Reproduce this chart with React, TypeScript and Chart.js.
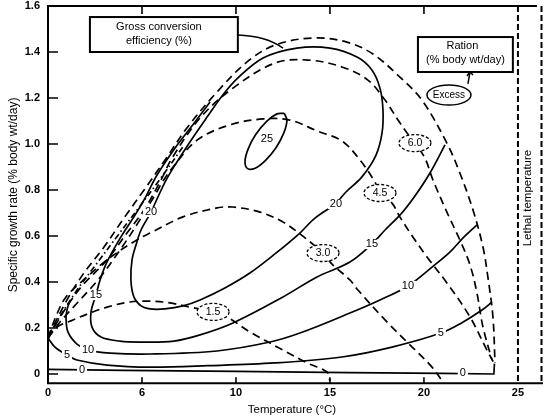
import React, { useEffect, useRef } from "react";
import { Chart, registerables } from "chart.js";

Chart.register(...registerables);

const FONT = "'Liberation Sans', Arial, sans-serif";

// ---- axes ----
const xTickValues = [0, 5, 10, 15, 20, 25];
const xTickLabels = ["0", "6", "10", "15", "20", "25"];
const yTickValues = [0, 0.2, 0.4, 0.6, 0.8, 1.0, 1.2, 1.4, 1.6];
const xMin = 0;
const xMax = 26.28;
const yMin = -0.04;
const yMax = 1.6;
const lethalTemperature = 25;

// ---- ration isopleths (% body wt/day), [temperature, growth rate] ----
const rationExcess = [
  [0, 0.161], [1.01, 0.322], [1.91, 0.439], [2.98, 0.552], [4.04, 0.678], [5.11, 0.8],
  [6.33, 0.943], [7.39, 1.07], [8.99, 1.226], [10.59, 1.357], [12.07, 1.43], [14.1, 1.461],
  [15.9, 1.443], [17.29, 1.391], [18.72, 1.291], [19.89, 1.191], [21.22, 1.004], [21.91, 0.874],
  [22.61, 0.713], [23.14, 0.552], [23.4, 0.422], [23.67, 0.248], [23.78, 0.048],
];
const ration60 = [
  [0, 0.157], [0.85, 0.274], [1.76, 0.378], [3.14, 0.496], [4.2, 0.613], [5.11, 0.713],
  [6.01, 0.843], [6.6, 0.939], [8.09, 1.113], [9.84, 1.243], [12.07, 1.352], [13.83, 1.365],
  [15.64, 1.335], [17.02, 1.278], [17.93, 1.191], [18.62, 1.104], [19.1, 1.048], [19.52, 1.004],
  [20.05, 0.939], [20.48, 0.843], [21.22, 0.704], [21.91, 0.583], [22.45, 0.474], [22.82, 0.352],
  [23.14, 0.204], [23.62, 0.061],
];
const ration45 = [
  [0, 0.157], [0.64, 0.226], [1.6, 0.313], [2.66, 0.409], [3.83, 0.539], [4.89, 0.67],
  [5.69, 0.778], [6.12, 0.839], [6.65, 0.9], [7.93, 1.017], [9.68, 1.083], [11.44, 1.109],
  [12.87, 1.104], [14.31, 1.057], [15.64, 1.013], [16.6, 0.93], [17.39, 0.835], [17.66, 0.787],
  [18.3, 0.743], [18.72, 0.683], [19.41, 0.596], [20.16, 0.509], [21.22, 0.396], [22.45, 0.248],
  [23.35, 0.104], [23.72, 0.048],
];
const ration30 = [
  [0, 0.157], [0.43, 0.252], [0.96, 0.335], [2.07, 0.422], [3.35, 0.509], [4.73, 0.583],
  [5.43, 0.613], [7.18, 0.683], [8.99, 0.722], [9.84, 0.726], [11.28, 0.704], [12.5, 0.661],
  [13.4, 0.609], [14.2, 0.557], [14.63, 0.526], [15.11, 0.478], [16.06, 0.409], [16.49, 0.365],
  [17.93, 0.235], [19.15, 0.135], [20.43, 0.03], [21.01, -0.035],
];
const ration15 = [
  [0, 0.157], [0.48, 0.204], [1.33, 0.235], [2.23, 0.265], [3.14, 0.291], [4.36, 0.313],
  [5.43, 0.317], [6.49, 0.309], [7.55, 0.291], [8.78, 0.27], [9.52, 0.248], [10.74, 0.183],
  [12.5, 0.104], [13.78, 0.048], [14.84, 0.009], [15.0, -0.03],
];
const dashDotLine = [
  [0, 0.148], [0.2, 0.19], [1.5, 0.36], [2.5, 0.47], [3.6, 0.59], [4.8, 0.72], [5.9, 0.84], [7.2, 0.99],
];

// ---- gross conversion efficiency isopleths (%) ----
const eff0 = [[0, 0.02], [4, 0.016], [10, 0.011], [16, 0.006], [21, 0.003], [23.72, 0.0], [23.75, 0.045]];
const eff5 = [
  [0, 0.157], [0.37, 0.117], [1.01, 0.083], [1.54, 0.061], [3.14, 0.039], [5.43, 0.03],
  [8.5, 0.036], [12.07, 0.048], [15.64, 0.074], [18.3, 0.117], [20.9, 0.178], [22.0, 0.222],
  [23.09, 0.278], [23.62, 0.313],
];
const eff10 = [
  [1.12, 0.309], [1.01, 0.278], [0.96, 0.243], [1.06, 0.183], [1.54, 0.13], [2.13, 0.104],
  [3.3, 0.091], [5.43, 0.087], [8.99, 0.1], [11.81, 0.139], [13.4, 0.178], [16.06, 0.265],
  [17.66, 0.322], [19.15, 0.383], [20.43, 0.465], [21.38, 0.53], [22.07, 0.591], [22.82, 0.648],
];
const eff15 = [
  [8.62, 1.183], [7.82, 1.096], [6.76, 0.983], [5.8, 0.865], [5.11, 0.757], [4.57, 0.683],
  [3.88, 0.596], [3.14, 0.487], [2.77, 0.409], [2.55, 0.343], [2.29, 0.27], [2.34, 0.204],
  [2.82, 0.161], [3.83, 0.143], [4.89, 0.139], [6.7, 0.143], [8.09, 0.17], [9.84, 0.222],
  [12.5, 0.335], [14.31, 0.422], [16.06, 0.487], [17.23, 0.565], [17.93, 0.626], [18.78, 0.696],
  [19.52, 0.774], [20.32, 0.874], [21.12, 0.996],
];
const eff20 = [
  [15.32, 0.739], [14.2, 0.678], [13.4, 0.613], [12.07, 0.522], [10.74, 0.439], [9.41, 0.374],
  [8.09, 0.322], [7.18, 0.296], [6.22, 0.283], [5.43, 0.283], [4.95, 0.296], [4.57, 0.335],
  [4.41, 0.409], [4.47, 0.496], [4.68, 0.561], [4.95, 0.626], [5.48, 0.704], [5.85, 0.77],
  [6.28, 0.843], [6.76, 0.909], [7.55, 1.009], [8.46, 1.117], [9.26, 1.209], [10.05, 1.283],
  [11.44, 1.374], [13.24, 1.417], [15.0, 1.417], [16.44, 1.378], [17.23, 1.322], [17.66, 1.243],
  [17.82, 1.148], [17.77, 1.048], [17.45, 0.952], [16.7, 0.857], [15.8, 0.787], [15.32, 0.739],
];
const eff25 = [
  [12.57, 1.133], [12.71, 1.102], [12.54, 1.047], [12.13, 0.984], [11.56, 0.928], [11.02, 0.895],
  [10.62, 0.893], [10.48, 0.924], [10.65, 0.979], [11.06, 1.042], [11.63, 1.098], [12.18, 1.131],
  [12.57, 1.133],
];

// ---- labels ----
const effLabelText = ["0", "0", "5", "5", "10", "10", "15", "15", "20", "20", "25"];
const effLabelX = [1.81, 22.07, 1.01, 20.9, 2.13, 19.15, 2.55, 17.23, 5.48, 15.32, 11.65];
const effLabelY = [0.017, 0.004, 0.083, 0.178, 0.104, 0.383, 0.343, 0.565, 0.704, 0.739, 1.022];

const rationLabelText = ["1.5", "3.0", "4.5", "6.0"];
const rationLabelX = [8.78, 14.63, 17.66, 19.52];
const rationLabelY = [0.27, 0.526, 0.787, 1.004];

const toXY = (arr: number[][]) => arr.map(([x, y]) => ({ x, y }));

const solid = (data: number[][], tension = 0.35) => ({
  data: toXY(data),
  borderColor: "#000",
  borderWidth: 1.7,
  showLine: true,
  pointRadius: 0,
  tension,
  fill: false,
});
const dashed = (data: number[][], dash: number[] = [8, 5]) => ({
  ...solid(data),
  borderDash: dash,
});

const annotate = {
  id: "annotate",
  afterDraw(chart: any) {
    const ctx = chart.ctx as CanvasRenderingContext2D;
    const xs = chart.scales.x;
    const ys = chart.scales.y;
    const px = (v: number) => xs.getPixelForValue(v);
    const py = (v: number) => ys.getPixelForValue(v);
    const { left, right, top, bottom } = chart.chartArea;
    ctx.save();
    ctx.textAlign = "center";
    ctx.textBaseline = "middle";

    // efficiency labels
    ctx.font = `11px ${FONT}`;
    effLabelText.forEach((t, i) => {
      const cx = px(effLabelX[i]);
      const cy = py(effLabelY[i]);
      const w = ctx.measureText(t).width + 4;
      ctx.fillStyle = "#fff";
      ctx.fillRect(cx - w / 2, cy - 5, w, 10);
      ctx.fillStyle = "#000";
      ctx.fillText(t, cx, cy);
    });

    // ration labels in dashed ovals
    ctx.font = `10.5px ${FONT}`;
    rationLabelText.forEach((t, i) => {
      const cx = px(rationLabelX[i]);
      const cy = py(rationLabelY[i]);
      ctx.beginPath();
      ctx.ellipse(cx, cy, 16, 8.5, 0, 0, Math.PI * 2);
      ctx.fillStyle = "#fff";
      ctx.fill();
      ctx.setLineDash([3, 2]);
      ctx.lineWidth = 1.3;
      ctx.strokeStyle = "#000";
      ctx.stroke();
      ctx.setLineDash([]);
      ctx.fillStyle = "#000";
      ctx.fillText(t, cx, cy + 0.5);
    });

    // efficiency legend box + callout
    const bx1 = px(2.23), bx2 = px(10.1), by1 = py(1.552), by2 = py(1.4);
    ctx.fillStyle = "#fff";
    ctx.fillRect(bx1, by1, bx2 - bx1, by2 - by1);
    ctx.lineWidth = 2;
    ctx.strokeStyle = "#000";
    ctx.strokeRect(bx1, by1, bx2 - bx1, by2 - by1);
    ctx.fillStyle = "#000";
    ctx.font = `11px ${FONT}`;
    ctx.fillText("Gross conversion", (bx1 + bx2) / 2 - 5, by1 + 10);
    ctx.fillText("efficiency (%)", (bx1 + bx2) / 2 - 5, by1 + 24);
    ctx.lineWidth = 1.4;
    ctx.beginPath();
    ctx.moveTo(bx2, py(1.474));
    ctx.quadraticCurveTo(px(11.6), py(1.47), px(12.5), py(1.417));
    ctx.stroke();

    // ration legend box
    const rx1 = px(19.68), rx2 = px(24.73), ry1 = py(1.465), ry2 = py(1.313);
    ctx.fillStyle = "#fff";
    ctx.fillRect(rx1, ry1, rx2 - rx1, ry2 - ry1);
    ctx.lineWidth = 2;
    ctx.strokeRect(rx1, ry1, rx2 - rx1, ry2 - ry1);
    ctx.fillStyle = "#000";
    ctx.fillText("Ration", (rx1 + rx2) / 2 - 3, ry1 + 9);
    ctx.fillText("(% body wt/day)", (rx1 + rx2) / 2, ry1 + 23);

    // Excess oval + pointer
    const ex = px(21.33), ey = py(1.213);
    ctx.beginPath();
    ctx.ellipse(ex, ey, 22, 10, 0, 0, Math.PI * 2);
    ctx.fillStyle = "#fff";
    ctx.fill();
    ctx.lineWidth = 1.5;
    ctx.stroke();
    ctx.fillStyle = "#000";
    ctx.font = `10px ${FONT}`;
    ctx.fillText("Excess", ex, ey + 0.5);
    ctx.beginPath();
    ctx.moveTo(px(22.34), py(1.261));
    ctx.lineTo(px(22.45), ry2);
    ctx.stroke();
    ctx.beginPath();
    ctx.moveTo(px(22.45) - 3, ry2 + 4);
    ctx.lineTo(px(22.45), ry2);
    ctx.lineTo(px(22.45) + 3, ry2 + 3);
    ctx.stroke();

    // frame
    ctx.strokeStyle = "#000";
    ctx.lineWidth = 2;
    ctx.beginPath();
    ctx.moveTo(left, top);
    ctx.lineTo(left, bottom + 1);
    ctx.moveTo(left - 1, bottom);
    ctx.lineTo(right + 1, bottom);
    ctx.moveTo(left - 1, top);
    ctx.lineTo(right - 5, top);
    ctx.stroke();
    ctx.setLineDash([6, 3]);
    ctx.beginPath();
    ctx.moveTo(right - 0.5, top);
    ctx.lineTo(right - 0.5, bottom);
    ctx.moveTo(px(lethalTemperature), top);
    ctx.lineTo(px(lethalTemperature), bottom);
    ctx.stroke();
    ctx.setLineDash([]);

    // inward tick marks
    ctx.lineWidth = 1.6;
    ctx.beginPath();
    yTickValues.forEach((v) => {
      if (v >= yMax) return;
      ctx.moveTo(left, py(v));
      ctx.lineTo(left + 10, py(v));
    });
    xTickValues.forEach((v) => {
      if (v <= xMin || v >= lethalTemperature) return;
      ctx.moveTo(px(v), top);
      ctx.lineTo(px(v), top + 8);
      ctx.moveTo(px(v), bottom);
      ctx.lineTo(px(v), bottom - 6);
    });
    ctx.stroke();

    // lethal temperature label
    ctx.save();
    ctx.translate(px(25.55), py(0.765));
    ctx.rotate(-Math.PI / 2);
    ctx.font = `11.5px ${FONT}`;
    ctx.fillStyle = "#000";
    ctx.fillText("Lethal temperature", 0, 0);
    ctx.restore();

    // axis titles
    ctx.font = `11.5px ${FONT}`;
    ctx.fillStyle = "#000";
    ctx.fillText("Temperature (\u00B0C)", 292, 410);
    ctx.save();
    ctx.translate(14, 195);
    ctx.rotate(-Math.PI / 2);
    ctx.font = `12px ${FONT}`;
    ctx.fillText("Specific growth rate (% body wt/day)", 0, 0);
    ctx.restore();

    ctx.restore();
  },
};

export default function App() {
  const ref = useRef<HTMLCanvasElement | null>(null);

  useEffect(() => {
    document.body.style.margin = "0";
    if (!ref.current) return;
    const chart = new Chart(ref.current, {
      type: "scatter",
      data: {
        datasets: [
          dashed(rationExcess),
          dashed(ration60),
          dashed(ration45),
          dashed(ration30),
          dashed(ration15),
          dashed(dashDotLine, [6, 3, 1.5, 3]),
          solid(eff0, 0),
          solid(eff5),
          solid(eff10),
          solid(eff15),
          solid(eff20),
          solid(eff25, 0.4),
        ] as any,
      },
      options: {
        responsive: false,
        animation: false,
        layout: { padding: { top: 6, right: 8, left: 0, bottom: 0 } },
        plugins: { legend: { display: false }, tooltip: { enabled: false } },
        elements: { point: { radius: 0 } },
        scales: {
          x: {
            type: "linear",
            min: xMin,
            max: xMax,
            grid: { display: false, drawTicks: false },
            border: { display: false },
            afterBuildTicks: (s: any) => {
              s.ticks = xTickValues.map((v) => ({ value: v }));
            },
            afterFit: (s: any) => {
              s.height = 36.8;
              s.paddingLeft = 0;
              s.paddingRight = 0;
            },
            ticks: {
              padding: 3,
              color: "#000",
              autoSkip: false,
              maxRotation: 0,
              font: { family: FONT, size: 11, weight: "bold" },
              callback: (v: any) => {
                const i = xTickValues.indexOf(Number(v));
                return i >= 0 ? xTickLabels[i] : "";
              },
            },
          },
          y: {
            type: "linear",
            min: yMin,
            max: yMax,
            grid: { display: false, drawTicks: false },
            border: { display: false },
            afterBuildTicks: (s: any) => {
              s.ticks = yTickValues.map((v) => ({ value: v }));
            },
            afterFit: (s: any) => {
              s.width = 48;
              s.paddingTop = 0;
              s.paddingBottom = 0;
            },
            ticks: {
              padding: 8,
              color: "#000",
              autoSkip: false,
              font: { family: FONT, size: 11, weight: "bold" },
              callback: (v: any) => (Number(v) === 0 ? "0" : Number(v).toFixed(1)),
            },
          },
        },
      } as any,
      plugins: [annotate],
    });
    return () => chart.destroy();
  }, []);

  return (
    <div style={{ position: "absolute", left: 0, top: 0, width: 550, height: 420, background: "#fff" }}>
      <canvas ref={ref} width={550} height={420} />
    </div>
  );
}
